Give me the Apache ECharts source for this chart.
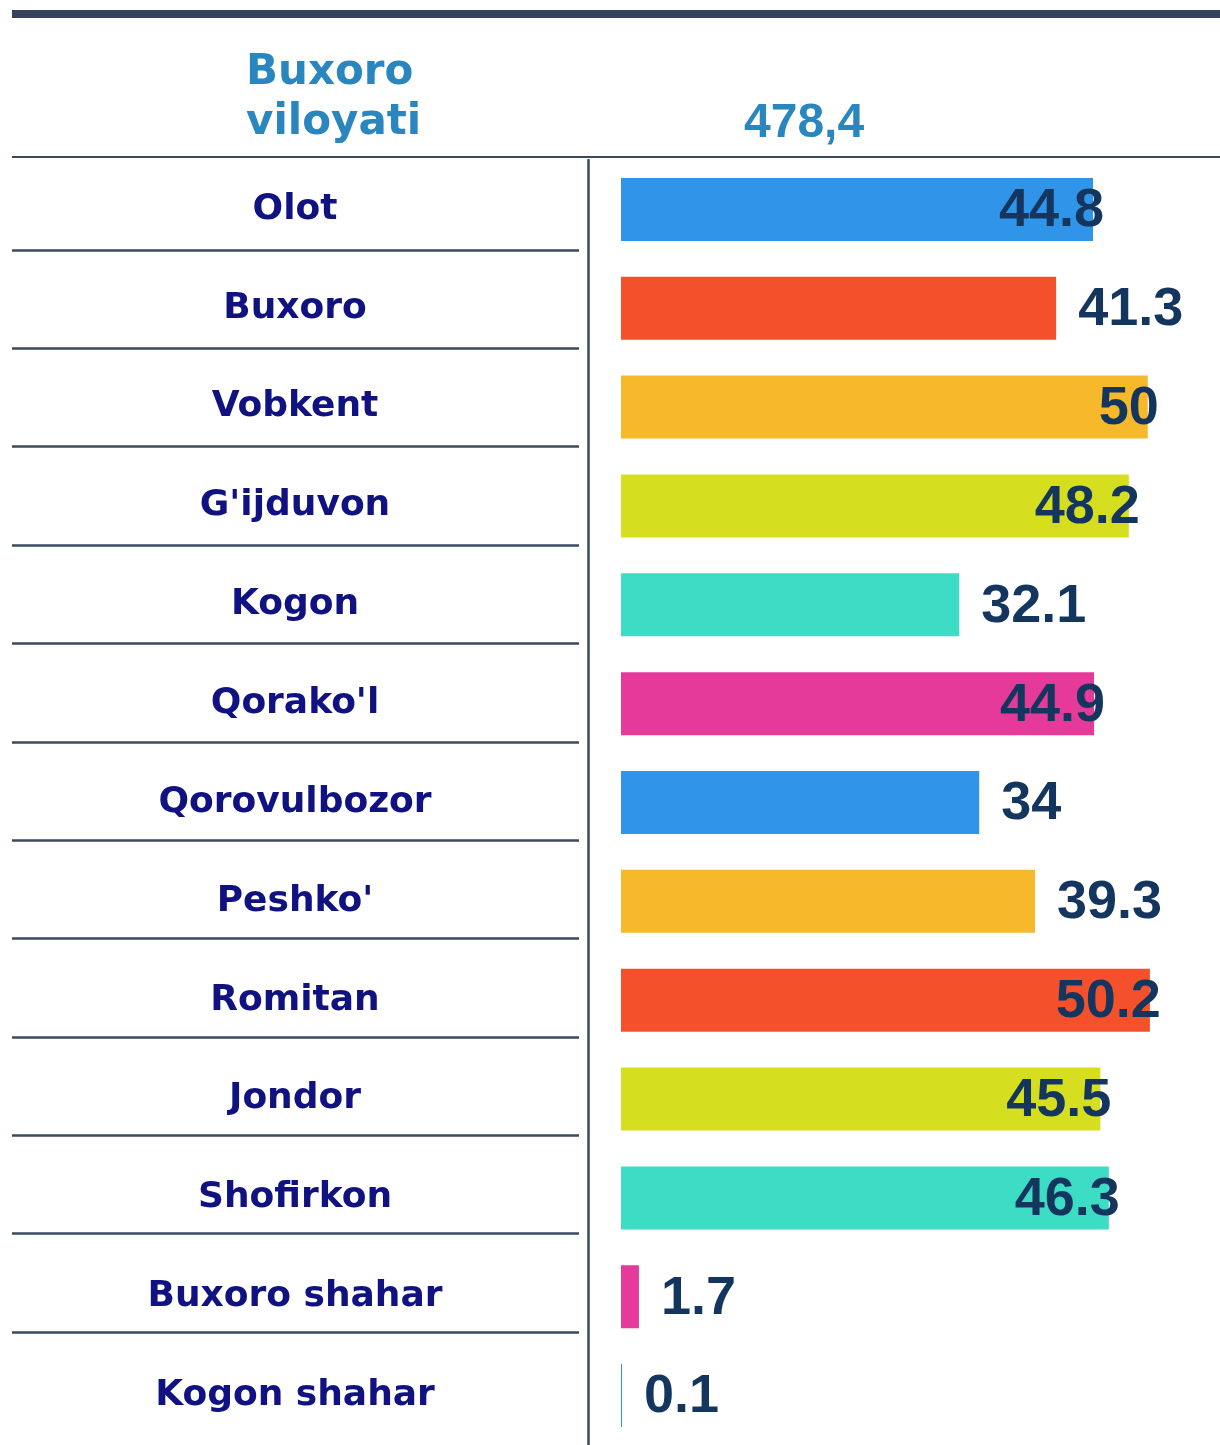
<!DOCTYPE html>
<html>
<head>
<meta charset="utf-8">
<title>Buxoro viloyati</title>
<script src="https://cdn.jsdelivr.net/npm/echarts@6/dist/echarts.min.js"></script>
<style>
  html, body { margin: 0; padding: 0; background: #fff; }
  #chart { width: 1220px; height: 1445px; }
</style>
</head>
<body>
<div id="chart"></div>
<script>
// tumanlar va qiymatlar
const districts = [
  "Olot", "Buxoro", "Vobkent", "G'ijduvon", "Kogon", "Qorako'l",
  "Qorovulbozor", "Peshko'", "Romitan", "Jondor", "Shofirkon",
  "Buxoro shahar", "Kogon shahar"
];
const values = [44.8, 41.3, 50, 48.2, 32.1, 44.9, 34, 39.3, 50.2, 45.5, 46.3, 1.7, 0.1];
const barColors = [
  "#3094e8", "#f5502c", "#f6b92c", "#d5df20", "#3ddcc4", "#e53a9a",
  "#3094e8", "#f6b92c", "#f5502c", "#d5df20", "#3ddcc4", "#e53a9a", "#3094e8"
];
const regionName = "Buxoro\nviloyati";
const regionTotal = "478,4";

const lineColor = "#3b4a5e";
const labelFont = "DejaVu Sans";
const numFont = "Liberation Sans";

const chart = echarts.init(document.getElementById("chart"));

const barData = values.map((v, i) => {
  // uzun ustunlarda raqam ustun oxiriga chiqib turadi
  const inside = v > 44;
  return {
    value: v,
    itemStyle: { color: barColors[i] },
    label: inside
      ? { position: "insideRight", distance: 5, offset: [16, 2] }
      : { position: "right", distance: 22, offset: [0, 2] }
  };
});

const option = {
  backgroundColor: "#fff",
  animation: false,
  title: [
    {
      text: regionName,
      left: 241,
      top: 43,
      textStyle: {
        fontFamily: labelFont,
        fontWeight: "bold",
        fontSize: 42,
        lineHeight: 50,
        color: "#2a86bf"
      }
    },
    {
      text: regionTotal,
      left: 739,
      top: 95,
      textStyle: {
        fontFamily: numFont,
        fontWeight: "bold",
        fontSize: 48,
        color: "#2a86bf"
      }
    }
  ],
  graphic: [
    {
      type: "rect",
      shape: { x: 12, y: 10, width: 1208, height: 8 },
      style: { fill: "#344359" }
    },
    {
      type: "line",
      shape: { x1: 12, y1: 157, x2: 1220, y2: 157 },
      style: { stroke: lineColor, lineWidth: 2 }
    }
  ],
  grid: [
    { left: 621, top: 160, width: 590, height: 1285 },
    { left: 12, top: 250, width: 567, height: 1082 }
  ],
  xAxis: [
    {
      gridIndex: 0,
      type: "value",
      min: 0,
      max: 56,
      show: false
    },
    {
      gridIndex: 1,
      type: "value",
      show: false
    }
  ],
  yAxis: [
    {
      gridIndex: 0,
      type: "category",
      inverse: true,
      data: districts,
      offset: 33,
      axisLine: {
        show: true,
        onZero: false,
        lineStyle: { color: lineColor, width: 2.5 }
      },
      axisTick: { show: false },
      splitLine: { show: false },
      axisLabel: {
        margin: 293,
        align: "center",
        fontFamily: labelFont,
        fontWeight: "bold",
        fontSize: 36,
        color: "#0f1280"
      }
    },
    {
      // chap tomondagi ajratuvchi chiziqlar
      gridIndex: 1,
      type: "value",
      inverse: true,
      min: 1,
      max: 12,
      interval: 1,
      axisLine: { show: false },
      axisTick: { show: false },
      axisLabel: { show: false },
      splitLine: {
        show: true,
        lineStyle: { color: lineColor, width: 2.5 }
      }
    }
  ],
  series: [
    {
      type: "bar",
      xAxisIndex: 0,
      yAxisIndex: 0,
      data: barData,
      barWidth: 63,
      label: {
        show: true,
        fontFamily: numFont,
        fontWeight: "bold",
        fontSize: 54,
        color: "#14365e"
      }
    }
  ]
};

chart.setOption(option);
</script>
</body>
</html>
